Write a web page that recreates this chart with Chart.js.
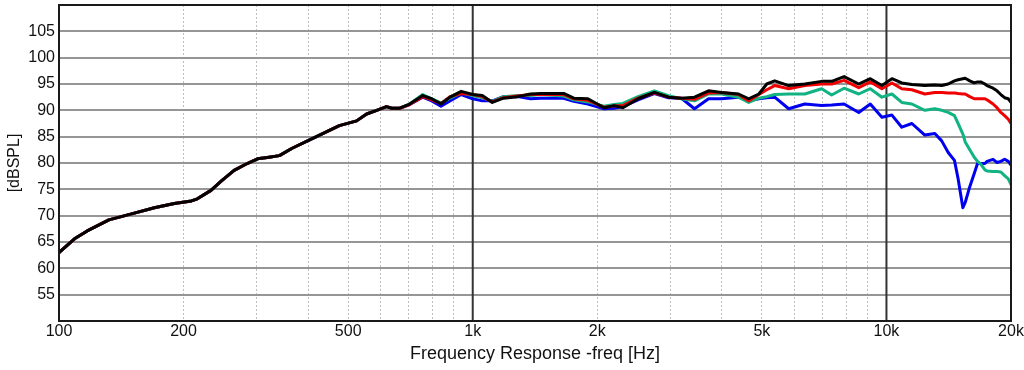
<!DOCTYPE html>
<html>
<head>
<meta charset="utf-8">
<script src="https://cdn.jsdelivr.net/npm/chart.js@4.4.0/dist/chart.umd.min.js"></script>
<style>
  html, body { margin: 0; padding: 0; background: #fff; }
  #wrap { width: 1024px; height: 370px; }
</style>
</head>
<body>
<div id="wrap"><canvas id="frChart"></canvas></div>
<script>
// frequency points [Hz]
const freqs = [100, 109, 117, 132, 149, 170, 190, 209, 216, 233, 247, 265, 285, 302, 322, 341, 366, 419, 476, 524,
  554, 586, 619, 637, 666, 704, 757, 796, 838, 881, 938, 1000, 1055, 1115, 1186, 1283, 1379, 1458, 1659, 1755,
  1898, 2076, 2195, 2307, 2510, 2748, 2973, 3195, 3436, 3716, 3994, 4390, 4645, 4915, 5137, 5369, 5803, 6347, 6970, 7372,
  7900, 8570, 9140, 9750, 10310, 10890, 11520, 12380, 13090, 13600, 14100, 14600, 14900, 15300, 15500, 15900, 16300, 16600, 16900, 17300,
  17500, 18100, 18500, 18900, 19300, 19700, 20000];

// SPL [dB]
const blackSpl = [63.0, 65.6, 67.1, 69.2, 70.3, 71.5, 72.3, 72.8, 73.2, 74.8, 76.6, 78.6, 79.9, 80.8, 81.1, 81.4, 82.8, 85.0, 87.1, 88.0,
  89.3, 90.0, 90.7, 90.4, 90.4, 91.2, 92.8, 92.2, 91.2, 92.5, 93.6, 93.0, 92.8, 91.5, 92.3, 92.6, 93.1, 93.2, 93.2, 92.3,
  92.2, 90.5, 90.9, 90.5, 92.2, 93.4, 92.5, 92.3, 92.5, 93.7, 93.4, 93.1, 92.2, 93.1, 95.0, 95.6, 94.7, 95.0, 95.5, 95.5,
  96.4, 95.0, 96.0, 94.7, 96.0, 95.2, 94.9, 94.7, 94.8, 94.7, 95.0, 95.6, 95.8, 96.0, 96.1, 95.6, 95.2, 95.4, 95.4, 95.0,
  94.7, 94.2, 93.7, 93.0, 92.4, 92.2, 91.5];
const redSpl = [63.0, 65.6, 67.1, 69.2, 70.3, 71.5, 72.3, 72.8, 73.2, 74.8, 76.6, 78.6, 79.9, 80.8, 81.1, 81.4, 82.8, 85.0, 87.1, 88.0,
  89.3, 90.0, 90.7, 90.4, 90.4, 91.1, 92.6, 92.0, 91.3, 92.6, 93.2, 93.0, 92.6, 91.6, 92.4, 92.7, 93.0, 93.0, 93.0, 92.2,
  91.9, 90.6, 90.8, 90.9, 92.3, 93.3, 92.5, 92.3, 92.1, 93.3, 93.4, 93.0, 91.8, 93.0, 93.9, 94.7, 94.1, 94.7, 95.0, 95.0,
  95.7, 94.3, 95.4, 94.1, 95.2, 94.1, 93.9, 93.1, 93.4, 93.4, 93.3, 93.3, 93.2, 93.1, 93.1, 92.6, 92.2, 92.2, 92.2, 92.2,
  92.0, 91.2, 90.5, 89.6, 89.0, 88.3, 87.5];
const greenSpl = [63.0, 65.6, 67.1, 69.2, 70.3, 71.5, 72.3, 72.8, 73.2, 74.8, 76.6, 78.6, 79.9, 80.8, 81.1, 81.4, 82.8, 85.0, 87.1, 88.0,
  89.3, 90.0, 90.7, 90.4, 90.4, 91.2, 93.0, 92.2, 91.4, 92.3, 93.3, 92.8, 92.4, 91.7, 92.6, 92.8, 92.8, 93.0, 92.7, 92.0,
  91.6, 90.8, 91.1, 91.3, 92.6, 93.7, 92.8, 92.2, 91.8, 93.1, 93.1, 92.5, 91.5, 92.3, 92.6, 93.0, 93.1, 93.1, 94.1, 92.9,
  94.2, 93.1, 94.1, 92.5, 93.1, 91.5, 91.2, 90.0, 90.3, 90.0, 89.6, 89.0, 87.5, 85.5, 84.0, 82.5, 81.1, 80.3, 79.8, 78.7,
  78.5, 78.4, 78.4, 78.3, 77.6, 77.0, 75.9];
const blueSpl = [63.0, 65.6, 67.1, 69.2, 70.3, 71.5, 72.3, 72.8, 73.2, 74.8, 76.6, 78.6, 79.9, 80.8, 81.1, 81.4, 82.8, 85.0, 87.1, 88.0,
  89.3, 90.0, 90.7, 90.4, 90.4, 91.1, 92.5, 91.8, 90.8, 91.8, 93.0, 92.2, 91.8, 91.8, 92.6, 92.6, 92.2, 92.3, 92.3, 91.7,
  91.2, 90.3, 90.4, 90.7, 92.0, 93.2, 92.4, 92.3, 90.3, 92.2, 92.2, 92.5, 91.8, 92.2, 92.4, 92.5, 90.3, 91.2, 90.9, 91.0,
  91.2, 89.6, 91.2, 88.7, 89.1, 86.8, 87.5, 85.3, 85.6, 84.2, 82.0, 80.5, 77.0, 71.5, 72.5, 75.5, 78.0, 79.9, 79.9, 79.9,
  80.3, 80.7, 80.1, 80.3, 80.7, 80.3, 79.6];

const xGridValues = [100, 200, 300, 400, 500, 600, 700, 800, 900, 1000,
  2000, 3000, 4000, 5000, 6000, 7000, 8000, 9000, 10000, 20000];
const xTickLabels = { 100: '100', 200: '200', 500: '500', 1000: '1k', 2000: '2k', 5000: '5k', 10000: '10k', 20000: '20k' };
const xMajorLines = [1000, 10000];

const toPoints = ys => freqs.map((f, i) => ({ x: f, y: ys[i] }));
const fontFamily = '"Liberation Sans", Arial, Helvetica, sans-serif';

// solid decade lines + frame round the plot
const plotFrame = {
    id: 'plotFrame',
    beforeDatasetsDraw(chart) {
        const { ctx, chartArea: a, scales } = chart;
        ctx.save();
        ctx.strokeStyle = '#333';
        ctx.lineWidth = 2;
        xMajorLines.forEach(v => {
            const px = scales.x.getPixelForValue(v);
            ctx.beginPath();
            ctx.moveTo(px, a.top);
            ctx.lineTo(px, a.bottom);
            ctx.stroke();
        });
        ctx.restore();
    },
    afterDatasetsDraw(chart) {
        const { ctx, chartArea: a } = chart;
        ctx.save();
        ctx.strokeStyle = '#1a1a1a';
        ctx.lineWidth = 2;
        ctx.strokeRect(a.left, a.top, a.right - a.left, a.bottom - a.top);
        ctx.restore();
    }
};

const ctx = document.getElementById('frChart').getContext('2d');
new Chart(ctx, {
    type: 'line',
    data: {
        datasets: [
            { label: 'black', data: toPoints(blackSpl), borderColor: '#000000', order: 1 },
            { label: 'red', data: toPoints(redSpl), borderColor: '#f00000', order: 2 },
            { label: 'green', data: toPoints(greenSpl), borderColor: '#12b383', order: 3 },
            { label: 'blue', data: toPoints(blueSpl), borderColor: '#0000f0', order: 4 }
        ]
    },
    options: {
        responsive: true,
        maintainAspectRatio: false,
        animation: false,
        layout: { padding: { top: 5, right: 13, bottom: 0, left: 0 } },
        elements: {
            line: { borderWidth: 3, tension: 0, borderJoinStyle: 'round', borderCapStyle: 'round' },
            point: { radius: 0 }
        },
        plugins: { legend: { display: false }, tooltip: { enabled: false } },
        scales: {
            x: {
                type: 'logarithmic',
                min: 100,
                max: 20000,
                afterBuildTicks: s => { s.ticks = xGridValues.map(v => ({ value: v })); },
                afterFit: s => { s.height = 49; s.paddingLeft = 0; s.paddingRight = 0; },
                ticks: {
                    autoSkip: false,
                    maxRotation: 0,
                    padding: 1,
                    color: '#111',
                    font: { family: fontFamily, size: 16 },
                    callback: v => xTickLabels[v] || ''
                },
                grid: {
                    drawTicks: false,
                    lineWidth: 1,
                    color: c => (c.tick && (xMajorLines.includes(c.tick.value) || c.tick.value === 100 || c.tick.value === 20000)) ? 'rgba(0,0,0,0)' : '#bdbdbd'
                },
                border: { display: false, dash: [2, 2] },
                title: {
                    display: true,
                    text: 'Frequency Response -freq [Hz]',
                    color: '#111',
                    font: { family: fontFamily, size: 18 },
                    padding: { top: 0, bottom: 5 }
                }
            },
            y: {
                min: 50,
                max: 110,
                afterFit: s => { s.width = 59; s.paddingTop = 0; s.paddingBottom = 0; },
                ticks: {
                    stepSize: 5,
                    padding: 4,
                    color: '#111',
                    font: { family: fontFamily, size: 16 },
                    callback: v => (v === 50 || v === 110) ? '' : v
                },
                grid: {
                    drawTicks: false,
                    lineWidth: 2,
                    color: c => (c.tick && (c.tick.value === 50 || c.tick.value === 110)) ? 'rgba(0,0,0,0)' : '#969696'
                },
                border: { display: false },
                title: {
                    display: true,
                    text: '[dBSPL]',
                    color: '#111',
                    font: { family: fontFamily, size: 16 },
                    padding: { top: 5, bottom: 0 }
                }
            }
        }
    },
    plugins: [plotFrame]
});
</script>
</body>
</html>
